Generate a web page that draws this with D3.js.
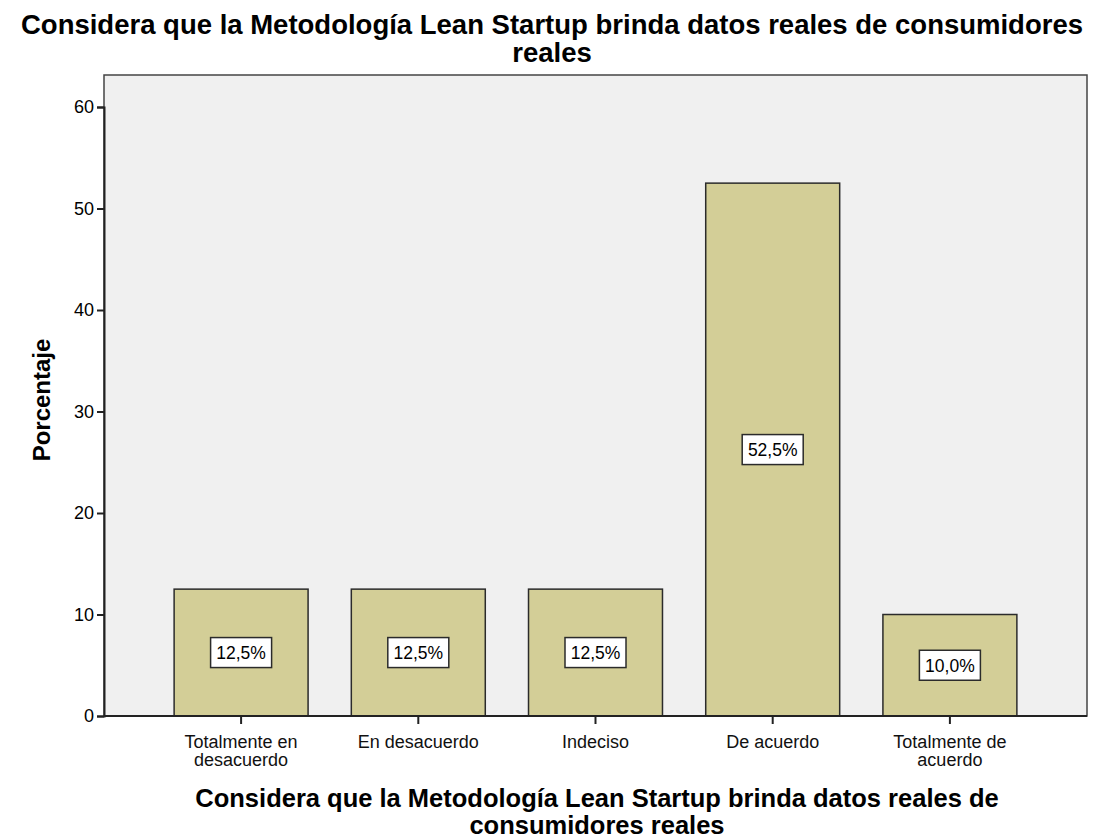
<!doctype html>
<meta charset="utf-8">
<title>Lean Startup - datos reales</title>
<script src="https://cdn.jsdelivr.net/npm/d3@7"></script>
<style>
  body { margin: 0; background: #fff; }
  text { font-family: "Liberation Sans", Arial, sans-serif; fill: #000; }
</style>
<body>
<svg id="chart" width="1098" height="839"></svg>
<script>
// data
var categories = ["Totalmente en\ndesacuerdo", "En desacuerdo", "Indeciso", "De acuerdo", "Totalmente de\nacuerdo"];
var values = [12.5, 12.5, 12.5, 52.5, 10.0];
var yTicks = [0, 10, 20, 30, 40, 50, 60];
var titleLines = ["Considera que la Metodología Lean Startup brinda datos reales de consumidores", "reales"];
var xTitleLines = ["Considera que la Metodología Lean Startup brinda datos reales de", "consumidores reales"];

var svg = d3.select("#chart");
var plotL = 104, plotR = 1087, plotT = 75, plotB = 716;

var x = d3.scaleBand()
    .domain(categories)
    .range([152.5, 1038.5])
    .paddingInner(0.244)
    .paddingOuter(0.122);

var y = d3.scaleLinear().domain([0, 60]).range([plotB, 107]);

// plot background
svg.append("rect")
  .attr("x", plotL).attr("y", plotT)
  .attr("width", plotR - plotL).attr("height", plotB - plotT)
  .attr("fill", "#f0f0f0")
  .attr("stroke", "#444").attr("stroke-width", 1.5);

// bars
svg.selectAll("rect.bar").data(values).enter().append("rect")
  .attr("class", "bar")
  .attr("x", function(d, i) { return x(categories[i]); })
  .attr("y", function(d) { return y(d); })
  .attr("width", x.bandwidth())
  .attr("height", function(d) { return plotB - y(d); })
  .attr("fill", "#d3ce97")
  .attr("stroke", "#2b2b2b").attr("stroke-width", 1.5);

// labels in bars
var lab = svg.selectAll("g.lab").data(values).enter().append("g")
  .attr("class", "lab")
  .attr("transform", function(d, i) {
    return "translate(" + (x(categories[i]) + x.bandwidth() / 2) + "," + y(d / 2) + ")";
  });
lab.append("rect")
  .attr("x", -30.5).attr("y", -15).attr("width", 61).attr("height", 30)
  .attr("fill", "#fff").attr("stroke", "#2b2b2b").attr("stroke-width", 1.5);
lab.append("text")
  .attr("text-anchor", "middle").attr("dy", "0.36em")
  .style("font-size", "17.5px")
  .text(function(d) { return d.toFixed(1).replace(".", ",") + "%"; });

// y axis
var yAxis = svg.append("g")
  .attr("transform", "translate(" + plotL + ",0)")
  .call(d3.axisLeft(y).tickValues(yTicks).tickSize(7).tickPadding(3));
yAxis.select(".domain").attr("stroke", "#222").attr("stroke-width", 2);
yAxis.selectAll(".tick line").attr("stroke", "#222").attr("stroke-width", 2);
yAxis.selectAll(".tick text")
  .attr("font-size", 18).attr("font-family", "Liberation Sans, Arial, sans-serif")
  .attr("fill", "#222");

// x axis
var xAxis = svg.append("g")
  .attr("transform", "translate(0," + plotB + ")")
  .call(d3.axisBottom(x).tickSize(8).tickFormat(""));
xAxis.select(".domain").attr("d", "M" + plotL + ",0H" + plotR).attr("stroke", "#222").attr("stroke-width", 2);
xAxis.selectAll(".tick line").attr("stroke", "#222").attr("stroke-width", 2);

// category labels (multi-line)
categories.forEach(function(c) {
  var cx = x(c) + x.bandwidth() / 2;
  var t = svg.append("text")
    .attr("text-anchor", "middle")
    .attr("x", cx)
    .attr("y", 748)
    .style("font-size", "18px")
    .style("fill", "#111");
  c.split("\n").forEach(function(line, j) {
    t.append("tspan").attr("x", cx).attr("dy", j ? 18 : 0).text(line);
  });
});

// title
titleLines.forEach(function(line, j) {
  svg.append("text")
    .attr("x", 552).attr("y", 34 + j * 28)
    .attr("text-anchor", "middle")
    .style("font-size", "27.5px").style("font-weight", "bold")
    .text(line);
});

// x title
xTitleLines.forEach(function(line, j) {
  svg.append("text")
    .attr("x", 597).attr("y", 807 + j * 27)
    .attr("text-anchor", "middle")
    .style("font-size", "25.5px").style("font-weight", "bold")
    .text(line);
});

// y title
svg.append("text")
  .attr("transform", "translate(50,400) rotate(-90)")
  .attr("text-anchor", "middle")
  .style("font-size", "24px").style("font-weight", "bold")
  .text("Porcentaje");
</script>
</body>
